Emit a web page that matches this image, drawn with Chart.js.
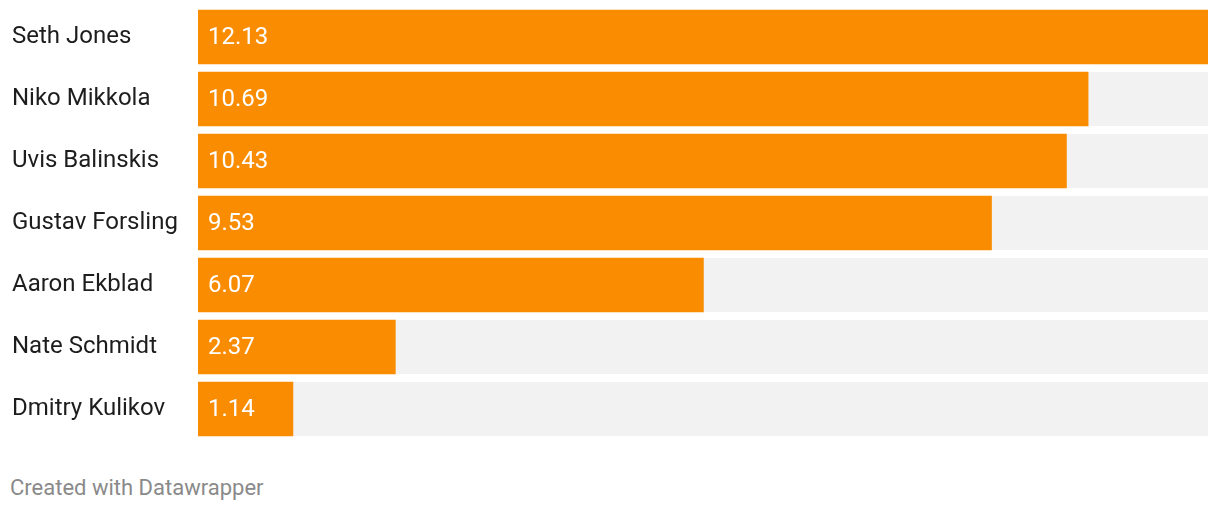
<!DOCTYPE html>
<html>
<head>
<meta charset="utf-8">
<script src="https://cdn.jsdelivr.net/npm/chart.js@4/dist/chart.umd.min.js"></script>
<style>
  body { margin: 0; background: #fff; font-family: Roboto, sans-serif; }
  #wrap { position: relative; width: 1220px; height: 446px; }
  .foot { position: absolute; left: 10px; top: 475px; font-size: 22px; color: #8a8a8a; }
</style>
</head>
<body>
<div id="wrap"><canvas id="chart"></canvas></div>
<div class="foot">Created with Datawrapper</div>
<script>
const players = ['Seth Jones', 'Niko Mikkola', 'Uvis Balinskis', 'Gustav Forsling', 'Aaron Ekblad', 'Nate Schmidt', 'Dmitry Kulikov']
const values = [12.13, 10.69, 10.43, 9.53, 6.07, 2.37, 1.14]
const xMax = 12.13

const orange = '#f98c00'
const track = '#f2f2f2'

// grey track behind each bar
const tracks = {
  id: 'tracks',
  beforeDatasetsDraw(chart) {
    const { ctx, chartArea, scales } = chart
    const meta = chart.getDatasetMeta(0)
    ctx.save()
    ctx.fillStyle = track
    meta.data.forEach((bar, i) => {
      const y = scales.y.getPixelForValue(i)
      ctx.fillRect(chartArea.left, y - bar.height / 2, scales.x.getPixelForValue(xMax) - chartArea.left, bar.height)
    })
    ctx.restore()
  }
}

// value text inside bar
const valueLabels = {
  id: 'valueLabels',
  afterDatasetsDraw(chart) {
    const { ctx } = chart
    const meta = chart.getDatasetMeta(0)
    ctx.save()
    ctx.fillStyle = '#fff'
    ctx.font = '24px Roboto'
    ctx.textBaseline = 'middle'
    meta.data.forEach((bar, i) => {
      ctx.fillText(values[i].toFixed(2), bar.base + 10, bar.y + 1)
    })
    ctx.restore()
  }
}

new Chart(document.getElementById('chart'), {
  type: 'bar',
  data: {
    labels: players,
    datasets: [{
      data: values,
      backgroundColor: orange,
      barThickness: 54
    }]
  },
  options: {
    indexAxis: 'y',
    responsive: true,
    maintainAspectRatio: false,
    animation: false,
    layout: { padding: { left: 12, right: 12, top: 6, bottom: 6 } },
    plugins: { legend: { display: false }, tooltip: { enabled: false } },
    scales: {
      x: { display: false, min: 0, max: xMax },
      y: {
        grid: { display: false },
        border: { display: false },
        afterFit: s => {
          s.width = 186
          s.paddingTop = 0
          s.paddingBottom = 0
        },
        ticks: {
          crossAlign: 'far',
          color: '#1d1d1d',
          font: { family: 'Roboto', size: 24 },
          padding: 0
        }
      }
    }
  },
  plugins: [tracks, valueLabels]
})
</script>
</body>
</html>
